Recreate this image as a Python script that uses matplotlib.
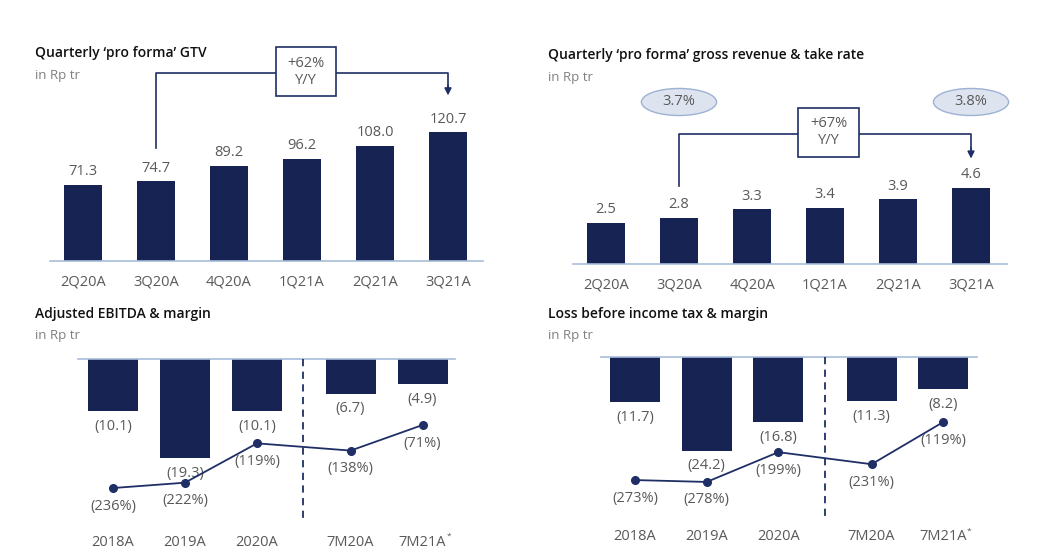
import matplotlib.pyplot as plt
from matplotlib.patches import Rectangle, Ellipse

plt.rcParams['font.family'] = ['Open Sans', 'DejaVu Sans']

# data
quarters = ['2Q20A', '3Q20A', '4Q20A', '1Q21A', '2Q21A', '3Q21A']
gtv = [71.3, 74.7, 89.2, 96.2, 108.0, 120.7]
revenue = [2.5, 2.8, 3.3, 3.4, 3.9, 4.6]
take_rate_labels = ['3.7%', '3.8%']
gtv_growth = '+62%\nY/Y'
rev_growth = '+67%\nY/Y'

years = ['2018A', '2019A', '2020A', '7M20A', '7M21A*']
year_pos = [0, 1, 2, 3.3, 4.3]
ebitda = [-10.1, -19.3, -10.1, -6.7, -4.9]
ebitda_margin = [-236, -222, -119, -138, -71]
lbt = [-11.7, -24.2, -16.8, -11.3, -8.2]
lbt_margin = [-273, -278, -199, -231, -119]

NAVY = '#172453'
LINE = '#1f2f66'
AXIS = '#a8bcda'
GREY = '#595959'
W, H = 1039, 558

fig = plt.figure(figsize=(W / 100, H / 100), dpi=100)


def add_ax(left, right, top, bottom):
    return fig.add_axes([left / W, 1 - bottom / H, (right - left) / W, (bottom - top) / H])


def clean(ax):
    for s in ax.spines.values():
        s.set_visible(False)
    ax.set_xticks([])
    ax.set_yticks([])
    ax.patch.set_alpha(0)


def fmt_neg(v, pct=False):
    if pct:
        return '(%d%%)' % abs(v)
    return '(%.1f)' % abs(v)


def titles(x, y, title):
    fig.text(x / W, 1 - y / H, title, fontsize=10, fontweight=600, color='#111111', va='center')
    fig.text(x / W, 1 - (y + 22) / H, 'in Rp tr', fontsize=9.5, color='#7f7f7f', va='center')


# ---- Quarterly GTV
ax = add_ax(50, 483, 35, 261)
clean(ax)
s = 1.065
ax.set_xlim(-33 / 73, 400 / 73)
ax.set_ylim(0, 226 / s)
x = list(range(len(quarters)))
ax.bar(x, gtv, width=0.52, color=NAVY, zorder=2)
ax.axhline(0, color=AXIS, lw=1.2, clip_on=False)
for xi, v in zip(x, gtv):
    ax.annotate('%.1f' % v, (xi, v), xytext=(0, 9.5), textcoords='offset points',
                ha='center', va='center', fontsize=10.5, color=GREY)
for xi, q in zip(x, quarters):
    ax.text(xi, -21 / s, q, ha='center', va='center', fontsize=10.5, color=GREY, clip_on=False)
ax.plot([1, 1, 5, 5], [106, 176.8, 176.8, 162], color=LINE, lw=1.2, clip_on=False)
ax.annotate('', xy=(5, 155.5), xytext=(5, 165), arrowprops=dict(arrowstyle='-|>', color=LINE, lw=1.2, mutation_scale=10, shrinkA=0, shrinkB=0))
ax.add_patch(Rectangle((2.644, 155), 0.822, 46, facecolor='white', edgecolor=LINE, lw=1.2, zorder=3, clip_on=False))
ax.text(3.055, 177.5, gtv_growth, ha='center', va='center', fontsize=10.5, color=GREY, zorder=4, linespacing=1.25)
titles(35, 53, 'Quarterly \u2018pro forma\u2019 GTV')

# ---- Gross revenue & take rate
ax = add_ax(573, 1007, 35, 264)
clean(ax)
s = 16.6
ax.set_xlim(-33 / 73, 401 / 73)
ax.set_ylim(0, 229 / s)
ax.bar(x, revenue, width=0.52, color=NAVY, zorder=2)
ax.axhline(0, color=AXIS, lw=1.2, clip_on=False)
for xi, v in zip(x, revenue):
    ax.annotate('%.1f' % v, (xi, v), xytext=(0, 9.5), textcoords='offset points',
                ha='center', va='center', fontsize=10.5, color=GREY)
for xi, q in zip(x, quarters):
    ax.text(xi, -21 / s, q, ha='center', va='center', fontsize=10.5, color=GREY, clip_on=False)
for xi, lab in zip([1, 5], take_rate_labels):
    ax.add_patch(Ellipse((xi, 9.76), 1.03, 1.63, facecolor='#dde4ef', edgecolor='#9db2d3', lw=1.0, clip_on=False))
    ax.text(xi, 9.76, lab, ha='center', va='center', fontsize=10.5, color=GREY)
ax.plot([1, 1, 5, 5], [4.7, 7.83, 7.83, 6.9], color=LINE, lw=1.2, clip_on=False)
ax.annotate('', xy=(5, 6.35), xytext=(5, 7.0), arrowprops=dict(arrowstyle='-|>', color=LINE, lw=1.2, mutation_scale=10, shrinkA=0, shrinkB=0))
ax.add_patch(Rectangle((2.63, 6.45), 0.84, 2.95, facecolor='white', edgecolor=LINE, lw=1.2, zorder=3, clip_on=False))
ax.text(3.05, 7.95, rev_growth, ha='center', va='center', fontsize=10.5, color=GREY, zorder=4, linespacing=1.25)
titles(548, 55, 'Quarterly \u2018pro forma\u2019 gross revenue & take rate')


# ---- bottom charts (loss bars + margin line)
def loss_chart(left, right, base, s, step, c0, vals, margins, m_px, m_val, m_slope, dash_px, dash_end, tx):
    ax = add_ax(left, right, base - 9, 530)
    clean(ax)
    ax.set_xlim((left - c0) / step, (right - c0) / step)
    ax.set_ylim(-(530 - base) / s, 9 / s)
    ax.bar(year_pos, vals, width=50 / step, color=NAVY, zorder=2)
    ax.axhline(0, color=AXIS, lw=1.2, clip_on=False)
    for xi, v in zip(year_pos, vals):
        ax.annotate(fmt_neg(v), (xi, v), xytext=(0, -11), textcoords='offset points',
                    ha='center', va='center', fontsize=10.5, color=GREY)
    for xi, q in zip(year_pos, years):
        ax.text(xi, -(tx - base) / s, q.replace('*', ''), ha='center', va='center', fontsize=10.5, color=GREY, clip_on=False)
    ax.text(year_pos[-1] + 0.36, -(tx - base - 6) / s, '*', ha='center', va='center', fontsize=6, color=GREY)
    ax.plot([(dash_px - c0) / step] * 2, [0, -(dash_end - base) / s], color=LINE, lw=1.3, ls=(0, (4, 3)))
    tw = ax.twinx()
    clean(tw)
    tw.set_ylim(m_val - (530 - m_px) / m_slope, m_val + (m_px - base + 9) / m_slope)
    tw.plot(year_pos, margins, color=LINE, lw=1.3, marker='o', ms=5.5, zorder=3)
    for xi, m in zip(year_pos, margins):
        tw.annotate(fmt_neg(m, True), (xi, m), xytext=(0, -13), textcoords='offset points',
                    ha='center', va='center', fontsize=10.5, color=GREY)


loss_chart(78, 455, 359, 5.15, 72, 113, ebitda, ebitda_margin, 425, -71, 0.382, 303, 522, 542)
titles(35, 314, 'Adjusted EBITDA & margin')
loss_chart(601, 977, 357, 3.87, 71.7, 635, lbt, lbt_margin, 422, -119, 0.377, 825, 518, 537)
titles(548, 314, 'Loss before income tax & margin')

fig.savefig('out.png', dpi=100)
